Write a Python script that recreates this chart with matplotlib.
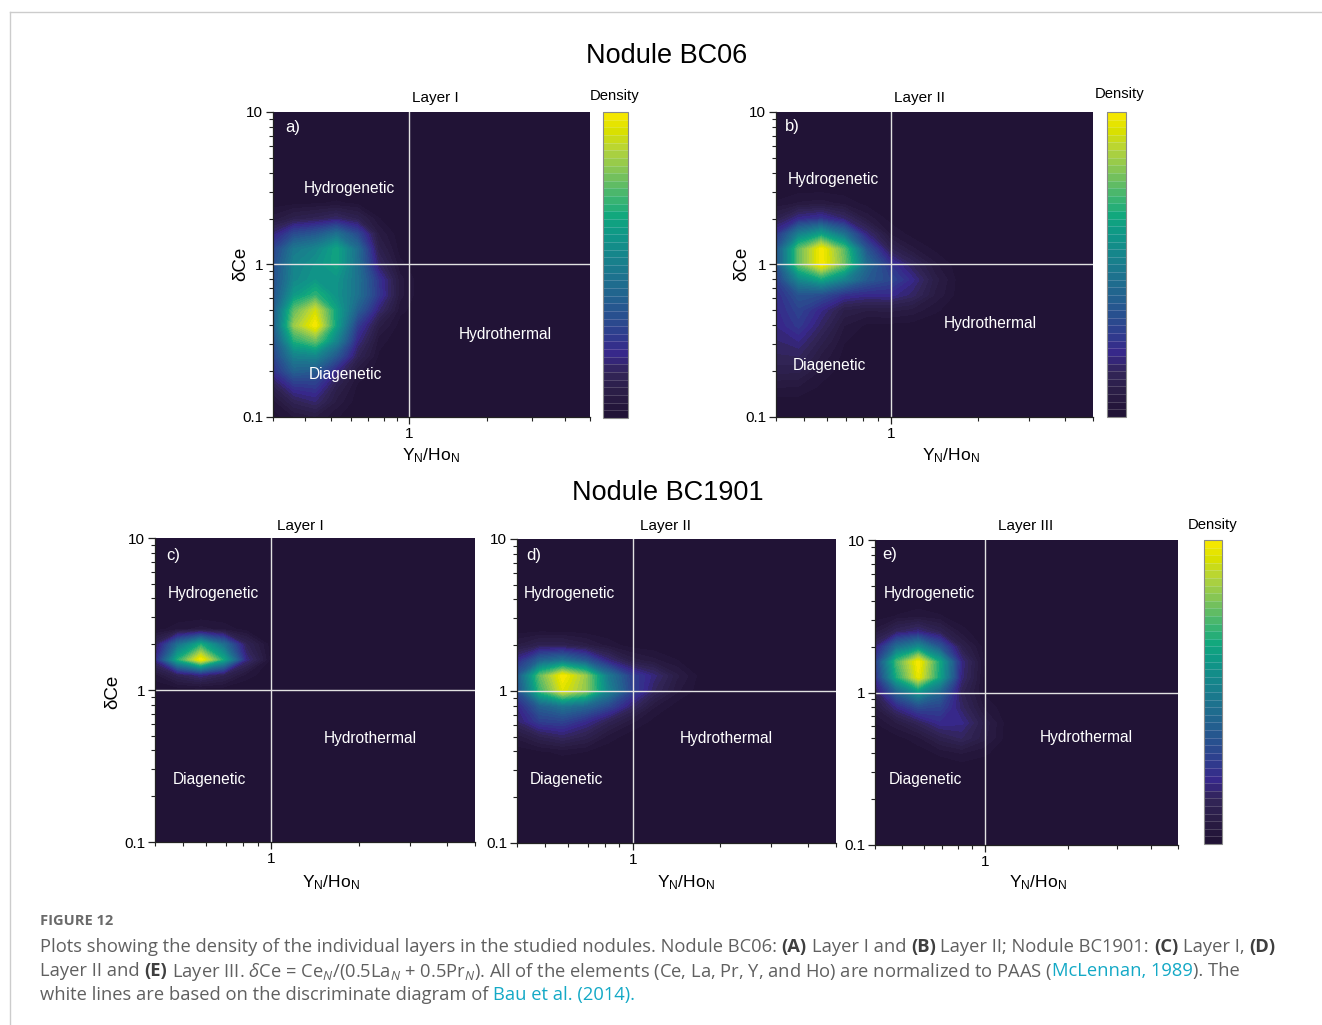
import numpy as np
import matplotlib
matplotlib.use("Agg")
import matplotlib.pyplot as plt
from matplotlib.colors import LinearSegmentedColormap
from matplotlib.ticker import LogLocator, NullFormatter

W, H, DPI = 1322, 1025, 100

plt.rcParams['font.family'] = ['Liberation Sans', 'DejaVu Sans']
plt.rcParams['mathtext.fontset'] = 'custom'
plt.rcParams['mathtext.rm'] = 'Liberation Sans'
plt.rcParams['mathtext.it'] = 'Open Sans:italic'
plt.rcParams['mathtext.bf'] = 'Liberation Sans:bold'

# ---- measured samples (Y_N/Ho_N, dCe) for each layer ----
# Nodule BC06, Layer I
yho_a = [0.42, 0.42, 0.42,
         0.32, 0.33, 0.31, 0.32, 0.33,
         0.38, 0.37, 0.39, 0.38, 0.37,
         0.46, 0.47, 0.45, 0.46, 0.47,
         0.55, 0.54, 0.56, 0.55, 0.58, 0.57,
         0.66, 0.72, 0.42]
dce_a = [0.42, 0.42, 0.42,
         0.22, 0.36, 0.55, 0.85, 1.30,
         0.22, 0.35, 0.55, 0.85, 1.35,
         0.24, 0.36, 0.60, 0.90, 1.40,
         0.30, 0.50, 0.80, 1.05, 1.38, 1.38,
         0.55, 0.75, 0.14]
# Nodule BC06, Layer II
yho_b = [0.575, 0.57, 0.58, 0.575, 0.575, 0.48, 0.50, 0.65, 0.68,
         0.55, 0.45, 0.60, 0.45, 0.72, 0.44, 0.45, 0.43, 0.50, 0.85,
         1.15, 1.00]
dce_b = [1.10, 1.08, 1.12, 1.10, 1.10, 1.10, 1.40, 1.30, 0.95,
         0.80, 0.85, 1.60, 1.50, 1.15, 0.55, 0.35, 0.22, 0.45, 0.75,
         0.73, 0.85]
# Nodule BC1901, Layer I
yho_c = [0.56, 0.58, 0.57, 0.57, 0.55, 0.60, 0.50, 0.66, 0.52, 0.63]
dce_c = [1.70, 1.71, 1.68, 1.72, 1.65, 1.75, 1.70, 1.70, 1.70, 1.68]
# Nodule BC1901, Layer II
yho_d = [0.44, 0.48, 0.52, 0.56, 0.58, 0.60, 0.64, 0.68, 0.72,
         0.50, 0.65, 0.45, 0.60, 0.55, 0.70, 0.45, 0.90, 1.15, 0.85]
dce_d = [1.12, 1.13, 1.13, 1.14, 1.13, 1.13, 1.12, 1.12, 1.10,
         0.80, 0.78, 0.65, 0.55, 1.55, 1.50, 1.60, 1.10, 1.20, 0.80]
# Nodule BC1901, Layer III
yho_e = [0.57, 0.57, 0.575, 0.57, 0.55, 0.60, 0.50, 0.65, 0.48, 0.62,
         0.70, 0.50, 0.60, 0.45, 0.65, 0.75, 0.85, 0.60, 0.50]
dce_e = [1.45, 1.44, 1.46, 1.45, 1.40, 1.50, 1.50, 1.40, 1.20, 1.15,
         1.60, 1.90, 2.20, 1.70, 0.80, 0.65, 0.55, 1.00, 0.85]

# kernel bandwidths (decades in x, decades in y)
bw_a = (0.07, 0.11)
bw_b = (0.085, 0.12)
bw_c = (0.08, 0.07)
bw_d = (0.08, 0.08)
bw_e = (0.075, 0.10)

xlim_a = (0.3, 5)
xlim_rest = (0.4, 5)
ylim = (0.1, 10)

panel_letters = ['a)', 'b)', 'c)', 'd)', 'e)']
layer_names = ['Layer I', 'Layer II', 'Layer I', 'Layer II', 'Layer III']
region_names = ['Hydrogenetic', 'Hydrothermal', 'Diagenetic']
nodule_titles = ['Nodule BC06', 'Nodule BC1901']

cmap = LinearSegmentedColormap.from_list('dens', [
    (0.00, '#1f1133'), (0.08, '#2a1d45'), (0.15, '#322559'),
    (0.21, '#37278a'), (0.28, '#2e3f8e'), (0.36, '#26578f'),
    (0.45, '#1e6f8e'), (0.53, '#16848b'), (0.60, '#0f9787'),
    (0.66, '#10a77e'), (0.72, '#3db471'), (0.80, '#7cc25a'),
    (0.88, '#b5d43a'), (0.94, '#d8e000'), (1.00, '#fbe900')])
levels = np.linspace(0, 1, 41)
BG = cmap(0.0)

fig = plt.figure(figsize=(W / DPI, H / DPI), dpi=DPI)


def fx(px):
    return px / W


def fy(py):
    return 1 - py / H


def box(l, r, t, b):
    return [l / W, 1 - b / H, (r - l) / W, (b - t) / H]


def density(yho, dce, xlim, bw, nx, ny):
    lx, ly = np.log10(yho), np.log10(dce)
    gx = np.linspace(np.log10(xlim[0]), np.log10(xlim[1]), nx)
    gy = np.linspace(np.log10(ylim[0]), np.log10(ylim[1]), ny)
    GX, GY = np.meshgrid(gx, gy)
    z = np.zeros_like(GX)
    for px, py in zip(lx, ly):
        z += np.exp(-0.5 * (((GX - px) / bw[0]) ** 2 + ((GY - py) / bw[1]) ** 2))
    return 10 ** GX, 10 ** GY, z / z.max()


def panel(rect, yho, dce, xlim, bw, nx, letter, lab_pos):
    ax = fig.add_axes(rect)
    ax.set_facecolor(BG)
    X, Y, Z = density(yho, dce, xlim, bw, nx, 21)
    cf = ax.contourf(X, Y, Z, levels=levels, cmap=cmap)
    ax.set_xscale('log')
    ax.set_yscale('log')
    ax.set_xlim(*xlim)
    ax.set_ylim(*ylim)
    ax.axvline(1, color='#e2e2e2', lw=1.0)
    ax.axhline(1, color='#e2e2e2', lw=1.0)
    ax.set_xticks([1], ['1'])
    ax.set_yticks([0.1, 1, 10], ['0.1', '1', '10'])
    ax.xaxis.set_minor_locator(LogLocator(base=10, subs=np.arange(2, 10)))
    ax.yaxis.set_minor_locator(LogLocator(base=10, subs=np.arange(2, 10)))
    ax.xaxis.set_minor_formatter(NullFormatter())
    ax.yaxis.set_minor_formatter(NullFormatter())
    ax.tick_params(which='major', length=5, width=0.9, labelsize=11,
                   pad=2, color='#222222')
    ax.tick_params(which='minor', length=3, width=0.8, color='#222222')
    for s in ('top', 'right'):
        ax.spines[s].set_visible(False)
    for s in ('left', 'bottom'):
        ax.spines[s].set_linewidth(0.9)
        ax.spines[s].set_color('#222222')
    ax.text(letter[1], letter[2], letter[0], transform=ax.transAxes,
            color='white', fontsize=12, ha='left', va='center')
    for name, (x, y) in zip(region_names, lab_pos):
        ax.text(x, y, name, transform=ax.transAxes, color='white',
                fontsize=11.2, ha='center', va='center')
    return ax, cf


def colorbar(cf, rect, title_px):
    cax = fig.add_axes(rect)
    cb = fig.colorbar(cf, cax=cax, drawedges=True)
    cb.set_ticks([])
    cb.outline.set_edgecolor('#8a8a8a')
    cb.outline.set_linewidth(0.8)
    cb.dividers.set_color('white')
    cb.dividers.set_alpha(0.25)
    cb.dividers.set_linewidth(0.5)
    fig.text(fx(title_px[0]), fy(title_px[1]), 'Density', fontsize=10.7,
             ha='center', va='center')


xlab = r'Y$_\mathrm{N}$/Ho$_\mathrm{N}$'

# ---- Nodule BC06 ----
fig.text(fx(667), fy(56), nodule_titles[0], fontsize=19.5, ha='center', va='center')
ax_a, cf_a = panel(box(273, 590, 112, 417), yho_a, dce_a, xlim_a, bw_a, 16,
                   (panel_letters[0], 0.038, 0.948),
                   [(0.24, 0.748), (0.732, 0.272), (0.227, 0.138)])
ax_b, cf_b = panel(box(776, 1093, 112, 417), yho_b, dce_b, xlim_rest, bw_b, 15,
                   (panel_letters[1], 0.028, 0.954),
                   [(0.18, 0.78), (0.675, 0.305), (0.17, 0.17)])
colorbar(cf_a, box(603, 628, 112, 418), (615, 96))
colorbar(cf_b, box(1107, 1126, 112, 417), (1120, 94))

# ---- Nodule BC1901 ----
fig.text(fx(668), fy(493), nodule_titles[1], fontsize=19.5, ha='center', va='center')
ax_c, cf_c = panel(box(155, 475, 538, 842), yho_c, dce_c, xlim_rest, bw_c, 15,
                   (panel_letters[2], 0.034, 0.944),
                   [(0.181, 0.819), (0.672, 0.342), (0.169, 0.207)])
ax_d, cf_d = panel(box(517, 836, 539, 843), yho_d, dce_d, xlim_rest, bw_d, 15,
                   (panel_letters[3], 0.028, 0.947),
                   [(0.163, 0.822), (0.655, 0.345), (0.154, 0.21)])
ax_e, cf_e = panel(box(875, 1178, 540, 845), yho_e, dce_e, xlim_rest, bw_e, 15,
                   (panel_letters[4], 0.023, 0.951),
                   [(0.178, 0.826), (0.696, 0.351), (0.165, 0.216)])
colorbar(cf_e, box(1204, 1222, 540, 844), (1213, 525))

# layer titles, axis labels
for name, (px, py) in zip(layer_names, [(435, 98), (920, 98), (300, 526),
                                        (665, 526), (1026, 526)]):
    fig.text(fx(px), fy(py), name, fontsize=11, ha='center', va='center')
for (px, py) in [(431, 456), (951, 456), (331, 883), (686, 883), (1038, 883)]:
    fig.text(fx(px), fy(py), xlab, fontsize=12.5, ha='center', va='center')
for (px, py) in [(241, 264), (742, 264), (113, 692)]:
    fig.text(fx(px), fy(py), 'δCe', fontsize=13.5, ha='center', va='center',
             rotation=90)

# page frame lines
fig.add_artist(plt.Line2D([fx(9.5), 1], [fy(11.5), fy(11.5)], color='#cccccc', lw=1))
fig.add_artist(plt.Line2D([fx(9.5), fx(9.5)], [fy(11.5), 0], color='#cccccc', lw=1))

# ---- caption ----
CAP_FONT = ['Open Sans', 'DejaVu Sans']
CAP_SIZE = 13.2
styles = {
    'n': dict(color='#606060', family=CAP_FONT, fontsize=CAP_SIZE),
    'b': dict(color='#3f3f3f', family=CAP_FONT, fontsize=CAP_SIZE, fontweight='bold'),
    'l': dict(color='#14a9c6', family=CAP_FONT, fontsize=CAP_SIZE),
}
fig.text(fx(40), fy(921), 'FIGURE 12', color='#6a6a6a', family=CAP_FONT,
         fontsize=10.5, fontweight='bold', ha='left', va='center')

caption_lines = [
    [("Plots showing the density of the individual layers in the studied "
      "nodules. Nodule BC06:", 'n', True), ("(A)", 'b', True),
     ("Layer I and", 'n', True), ("(B)", 'b', True),
     ("Layer II; Nodule BC1901:", 'n', True), ("(C)", 'b', True),
     ("Layer I,", 'n', True), ("(D)", 'b', False)],
    [("Layer II and", 'n', True), ("(E)", 'b', True),
     (r"Layer III. $\delta$Ce = Ce$_N$/(0.5La$_N$ + 0.5Pr$_N$). All of the "
      "elements (Ce, La, Pr, Y, and Ho) are normalized to PAAS (", 'n', False),
     ("McLennan, 1989", 'l', False), ("). The", 'n', False)],
    [("white lines are based on the discriminate diagram of", 'n', True),
     ("Bau et al. (2014).", 'l', False)],
]

renderer = fig.canvas.get_renderer()
probe1 = fig.text(0, 0, 'x x', **styles['n'])
probe2 = fig.text(0, 0, 'xx', **styles['n'])
space_w = (probe1.get_window_extent(renderer).width
           - probe2.get_window_extent(renderer).width)
probe1.remove()
probe2.remove()

for line, py in zip(caption_lines, [945, 969, 993]):
    x = 40.0
    for text, st, gap in line:
        t = fig.text(fx(x), fy(py), text, ha='left', va='center_baseline', **styles[st])
        x += t.get_window_extent(renderer).width + (space_w if gap else 0)

fig.savefig('out.png', dpi=DPI, facecolor='white')
